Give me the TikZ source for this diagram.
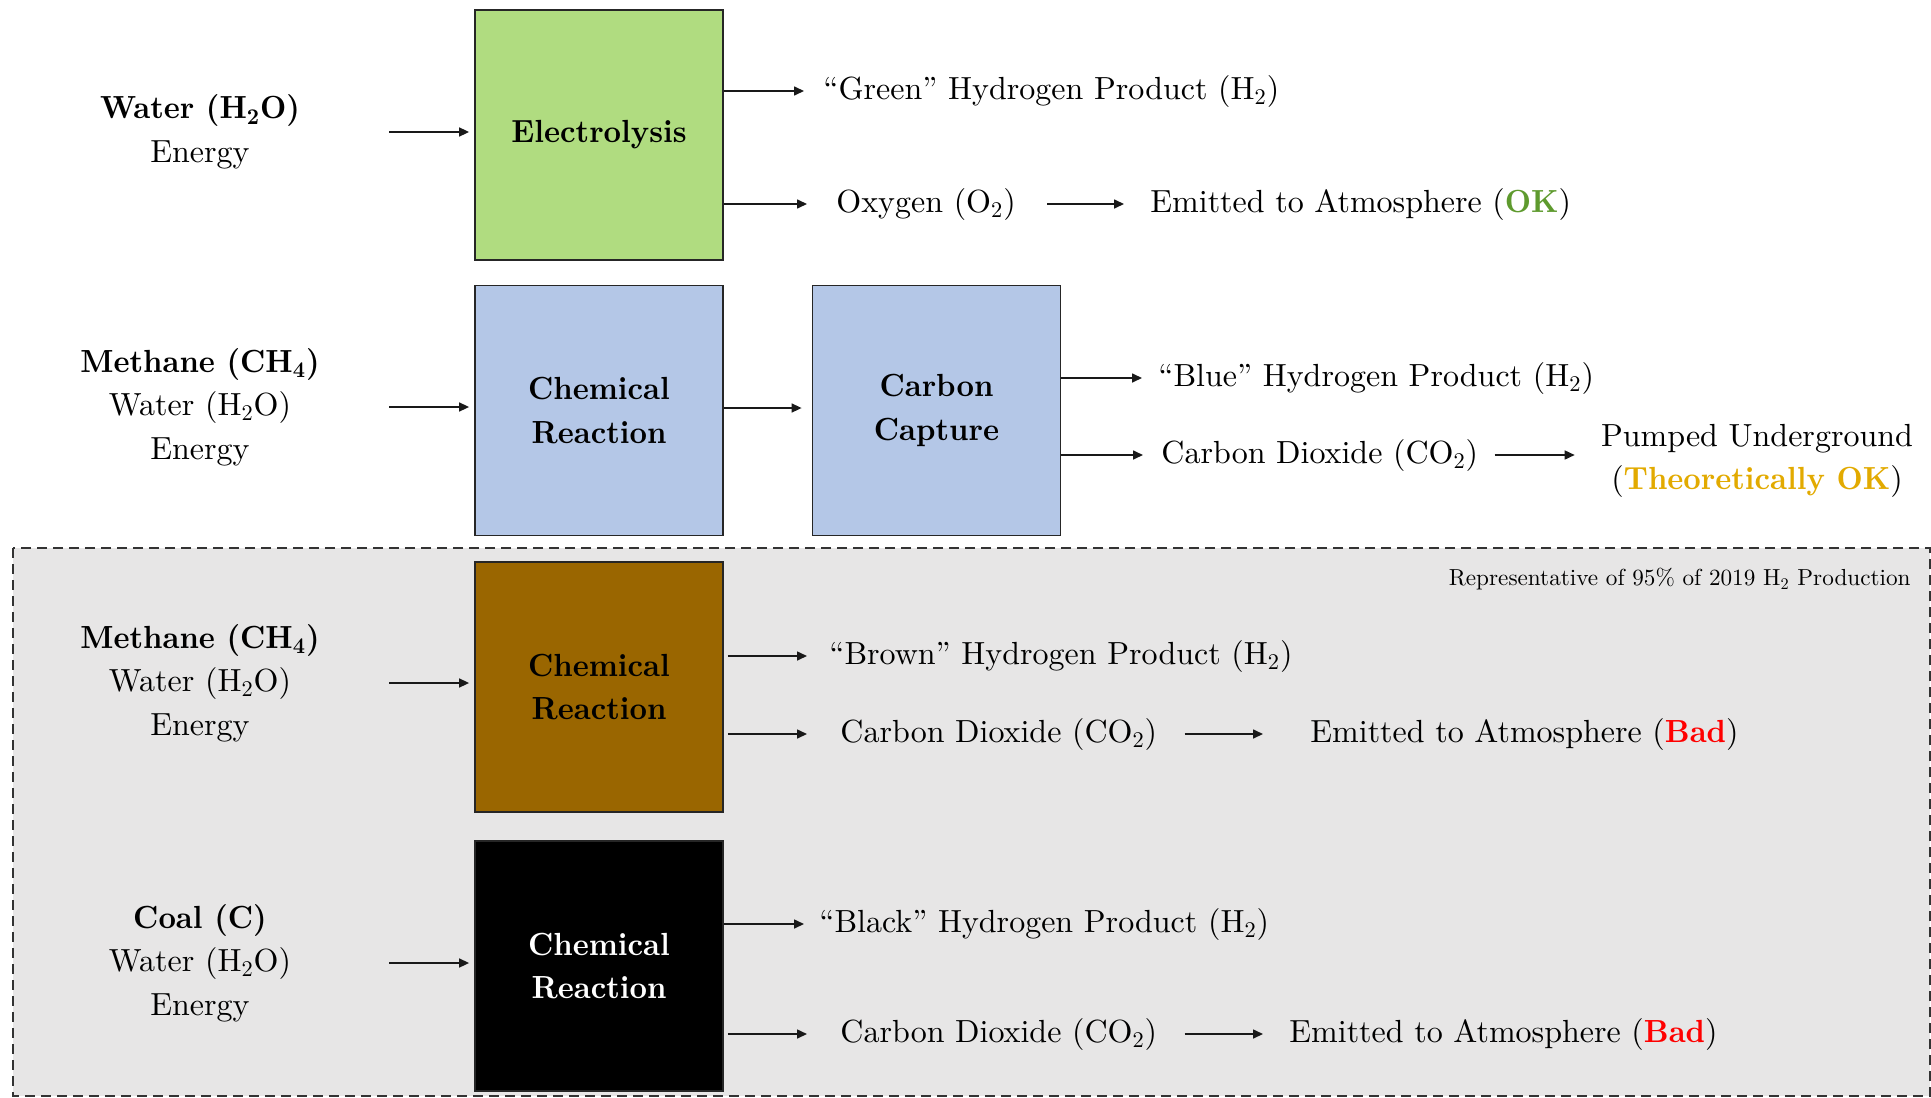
\documentclass[tikz,border=0pt]{standalone}
\usepackage{fontspec}
\setmainfont{lmroman10-regular.otf}[BoldFont=lmroman10-bold.otf,BoldFeatures={FakeStretch=0.95}]
\usepackage{tikz}
\usetikzlibrary{arrows.meta,positioning}
\definecolor{elgreen}{HTML}{B0DC80}
\definecolor{smrblue}{HTML}{B4C7E7}
\definecolor{smrbrown}{HTML}{9A6600}
\definecolor{bggray}{HTML}{E7E6E6}
\definecolor{okgreen}{HTML}{5E9A2E}
\definecolor{okgold}{HTML}{E2AA00}
\definecolor{badred}{HTML}{FF0000}

\begin{document}
\begin{tikzpicture}[x=0.5pt,y=-0.5pt,font=\fontsize{16}{21.75}\selectfont,
  box/.style={draw=black!85,line width=0.9pt,minimum width=124pt,minimum height=125pt,align=center,font=\fontsize{16}{21.75}\selectfont\bfseries},
  src/.style={align=center,minimum width=189pt,inner sep=0pt},
  lbl/.style={anchor=west,inner sep=0pt},
  arr/.style={-{Triangle[length=5pt,width=4.5pt]},line width=0.8pt,black!90}]
\useasboundingbox (0,0) rectangle (1931,1097);
% --- shaded region: brown and black routes ---
\draw[dash pattern=on 5pt off 3pt,line width=0.7pt,black!80,fill=bggray] (13,548) rectangle (1930,1096);
\node[anchor=east,inner sep=0pt,font=\fontsize{11.6}{13}\selectfont] (cap) at (1911,579) {Representative of 95\% of 2019 H\textsubscript{2} Production};
% --- row 1: electrolysis ---
\node[src] (in1) at (200,132) {\textbf{Water (H\textsubscript{2}O)}\\Energy};
\node[box,fill=elgreen] (el) at (599,135) {Electrolysis};
\node[lbl] (g1) at (823,91) {``Green'' Hydrogen Product (H\textsubscript{2})};
\node[lbl] (ox) at (836,204) {Oxygen (O\textsubscript{2})};
\node[lbl] (em1) at (1150,204) {Emitted to Atmosphere (\textcolor{okgreen}{\textbf{OK}})};
\draw[arr,shorten >=2.5pt] (in1.east) -- (in1.east -| el.west);
\draw[arr] (el.east |- g1.west) -- ([xshift=-9.5pt]g1.west);
\draw[arr] (el.east |- ox.west) -- ([xshift=-14.5pt]ox.west);
\draw[arr] ([xshift=15.5pt]ox.east) -- ([xshift=-13pt]em1.west);
% --- row 2: chemical reaction + carbon capture ---
\node[src] (in2) at (200,407) {\textbf{Methane (CH\textsubscript{4})}\\Water (H\textsubscript{2}O)\\Energy};
\node[box,fill=smrblue] (cr1) at (599,410.5) {Chemical\\Reaction};
\node[box,fill=smrblue] (cc) at (936.5,410.5) {Carbon\\Capture};
\node[lbl] (b1) at (1158,378) {``Blue'' Hydrogen Product (H\textsubscript{2})};
\node[lbl] (co1) at (1161,455) {Carbon Dioxide (CO\textsubscript{2})};
\node[align=center,inner sep=0pt] (pu) at (1757,461) {Pumped Underground\\(\textcolor{okgold}{\textbf{Theoretically OK}})};
\draw[arr,shorten >=2.5pt] (in2.east) -- (in2.east -| cr1.west);
\draw[arr,shorten >=5pt] ([yshift=1.25pt]cr1.east) -- ([yshift=1.25pt]cc.west);
\draw[arr] (cc.east |- b1.west) -- ([xshift=-8pt]b1.west);
\draw[arr] (cc.east |- co1.west) -- ([xshift=-9pt]co1.west);
\draw[arr,shorten <=8pt,shorten >=13pt] (co1.east) -- (co1.east -| pu.west);
% --- row 3: brown route ---
\node[src] (in3) at (200,683) {\textbf{Methane (CH\textsubscript{4})}\\Water (H\textsubscript{2}O)\\Energy};
\node[box,fill=smrbrown] (cr2) at (599,687) {Chemical\\Reaction};
\node[lbl] (br1) at (829,656) {``Brown'' Hydrogen Product (H\textsubscript{2})};
\node[lbl] (co2) at (840,734) {Carbon Dioxide (CO\textsubscript{2})};
\node[lbl] (em2) at (1310,734) {Emitted to Atmosphere (\textcolor{badred}{\textbf{Bad}})};
\draw[arr,shorten >=2.5pt] (in3.east) -- (in3.east -| cr2.west);
\draw[arr,shorten <=2pt] (cr2.east |- br1.west) -- ([xshift=-11pt]br1.west);
\draw[arr,shorten <=2pt] (cr2.east |- co2.west) -- ([xshift=-16.5pt]co2.west);
\draw[arr] ([xshift=13.5pt]co2.east) -- ([xshift=-23.5pt]em2.west);
% --- row 4: black route ---
\node[src] (in4) at (200,963) {\textbf{Coal (C)}\\Water (H\textsubscript{2}O)\\Energy};
\node[box,fill=black,text=white] (cr3) at (599,966) {Chemical\\Reaction};
\node[lbl] (bk1) at (819,924) {``Black'' Hydrogen Product (H\textsubscript{2})};
\node[lbl] (co3) at (840,1034) {Carbon Dioxide (CO\textsubscript{2})};
\node[lbl] (em3) at (1289,1034) {Emitted to Atmosphere (\textcolor{badred}{\textbf{Bad}})};
\draw[arr,shorten >=2.5pt] (in4.east) -- (in4.east -| cr3.west);
\draw[arr] (cr3.east |- bk1.west) -- ([xshift=-7.5pt]bk1.west);
\draw[arr,shorten <=2pt] (cr3.east |- co3.west) -- ([xshift=-16.5pt]co3.west);
\draw[arr] ([xshift=13.5pt]co3.east) -- ([xshift=-13pt]em3.west);
\end{tikzpicture}
\end{document}
